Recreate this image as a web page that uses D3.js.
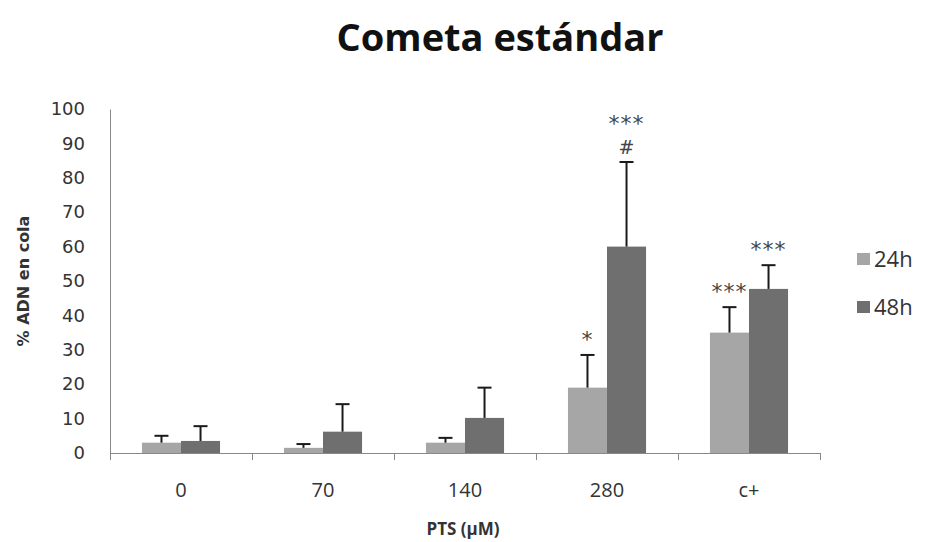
<!DOCTYPE html>
<html>
<head>
<meta charset="utf-8">
<script src="https://cdn.jsdelivr.net/npm/d3@7"></script>
<style>
  body { margin: 0; background: #fff; }
  svg { display: block; }
</style>
</head>
<body>
<div class="svg-div"></div>
<script>
// chart data
var categories = ["0", "70", "140", "280", "c+"];
var seriesNames = ["24h", "48h"];
var values24 = [3, 1.5, 3, 19, 35];
var errors24 = [2, 1.1, 1.4, 9.5, 7.4];
var values48 = [3.5, 6.2, 10.2, 60, 47.7];
var errors48 = [4.3, 8, 8.8, 24.6, 6.9];
var marks24 = [[], [], [], ["*"], ["***"]];
var marks48 = [[], [], [], ["***", "#"], ["***"]];
var yTicks = [0, 10, 20, 30, 40, 50, 60, 70, 80, 90, 100];

var colors = { "24h": "#a6a6a6", "48h": "#6f6f6f" };

var w = 927;
var h = 542;

var svg = d3.select(".svg-div")
	.append("svg")
	.attr("width", w)
	.attr("height", h);

// scales
var x0 = d3.scaleBand()
	.domain(categories)
	.range([110, 820])
	.paddingInner(0.45)
	.paddingOuter(0.225);

var x1 = d3.scaleBand()
	.domain(seriesNames)
	.range([0, x0.bandwidth()]);

var y = d3.scaleLinear()
	.domain([0, 100])
	.range([453, 109]);

// title
svg.append("text")
	.attr("x", 500)
	.attr("y", 51)
	.attr("text-anchor", "middle")
	.attr("font-family", "Open Sans")
	.attr("font-weight", "bold")
	.attr("font-size", 38)
	.attr("fill", "#111")
	.text("Cometa estándar");

// y axis
var yAxis = svg.append("g")
	.attr("transform", "translate(110,0)")
	.call(d3.axisLeft(y).tickValues(yTicks).tickSize(0).tickPadding(25));
yAxis.select(".domain").attr("stroke", "#888");
yAxis.selectAll("text")
	.attr("font-family", "DejaVu Sans")
	.attr("font-size", 18)
	.attr("fill", "#333");

// x axis: ticks between categories
var edge = d3.scaleLinear().domain([0, categories.length]).range([110, 820]);
var xTicks = svg.append("g")
	.attr("transform", "translate(0,453)")
	.call(d3.axisBottom(edge).tickValues(d3.range(categories.length + 1)).tickSize(7).tickFormat(""));
xTicks.selectAll("line, path").attr("stroke", "#888");

var xLabels = svg.append("g")
	.attr("transform", "translate(0,453)")
	.call(d3.axisBottom(x0).tickSize(0).tickPadding(30));
xLabels.select(".domain").remove();
xLabels.selectAll("text")
	.attr("font-family", "Open Sans")
	.attr("font-size", 20)
	.attr("fill", "#333");

// axis titles
svg.append("text")
	.attr("x", 463)
	.attr("y", 535)
	.attr("text-anchor", "middle")
	.attr("font-family", "Open Sans")
	.attr("font-weight", "bold")
	.attr("font-size", 17)
	.attr("fill", "#333")
	.text("PTS (µM)");

svg.append("text")
	.attr("transform", "translate(29,281) rotate(-90)")
	.attr("text-anchor", "middle")
	.attr("font-family", "DejaVu Sans")
	.attr("font-weight", "bold")
	.attr("font-size", 16)
	.attr("fill", "#333")
	.text("% ADN en cola");

// bars
var series = [
	{ name: "24h", values: values24, errors: errors24, marks: marks24 },
	{ name: "48h", values: values48, errors: errors48, marks: marks48 }
];

series.forEach(function(s) {
	var g = svg.append("g");
	var rows = categories.map(function(c, i) {
		return { cat: c, v: s.values[i], e: s.errors[i], m: s.marks[i] };
	});

	g.selectAll("rect")
		.data(rows)
		.enter()
		.append("rect")
		.attr("x", function(d) { return x0(d.cat) + x1(s.name); })
		.attr("y", function(d) { return y(d.v); })
		.attr("width", x1.bandwidth())
		.attr("height", function(d) { return y(0) - y(d.v); })
		.attr("fill", colors[s.name]);

	// upper error bars
	var cx = function(d) { return x0(d.cat) + x1(s.name) + x1.bandwidth() / 2; };
	g.selectAll(".err")
		.data(rows)
		.enter()
		.append("line")
		.attr("x1", cx).attr("x2", cx)
		.attr("y1", function(d) { return y(d.v); })
		.attr("y2", function(d) { return y(d.v + d.e); })
		.attr("stroke", "#1a1a1a")
		.attr("stroke-width", 2);
	g.selectAll(".cap")
		.data(rows)
		.enter()
		.append("line")
		.attr("x1", function(d) { return cx(d) - 7; })
		.attr("x2", function(d) { return cx(d) + 7; })
		.attr("y1", function(d) { return y(d.v + d.e); })
		.attr("y2", function(d) { return y(d.v + d.e); })
		.attr("stroke", "#1a1a1a")
		.attr("stroke-width", 2);

	// significance marks
	rows.forEach(function(d) {
		var n = d.m.length;
		d.m.forEach(function(t, k) {
			g.append("text")
				.attr("x", cx(d))
				.attr("y", y(d.v + d.e) - 8 - (n - 1 - k) * 23)
				.attr("text-anchor", "middle")
				.attr("font-family", "DejaVu Sans")
				.attr("font-size", t == "#" ? 19 : 22)
				.attr("letter-spacing", t == "#" ? 0 : 1)
				.attr("fill", "#444")
				.text(t);
		});
	});
});

// legend
var legend = svg.append("g");
seriesNames.forEach(function(n, i) {
	legend.append("rect")
		.attr("x", 857)
		.attr("y", 253 + i * 48)
		.attr("width", 13)
		.attr("height", 12)
		.attr("fill", colors[n]);
	legend.append("text")
		.attr("x", 874)
		.attr("y", 259 + i * 48)
		.attr("dy", "0.35em")
		.attr("font-family", "Open Sans")
		.attr("font-size", 22)
		.attr("fill", "#333")
		.text(n);
});
</script>
</body>
</html>
